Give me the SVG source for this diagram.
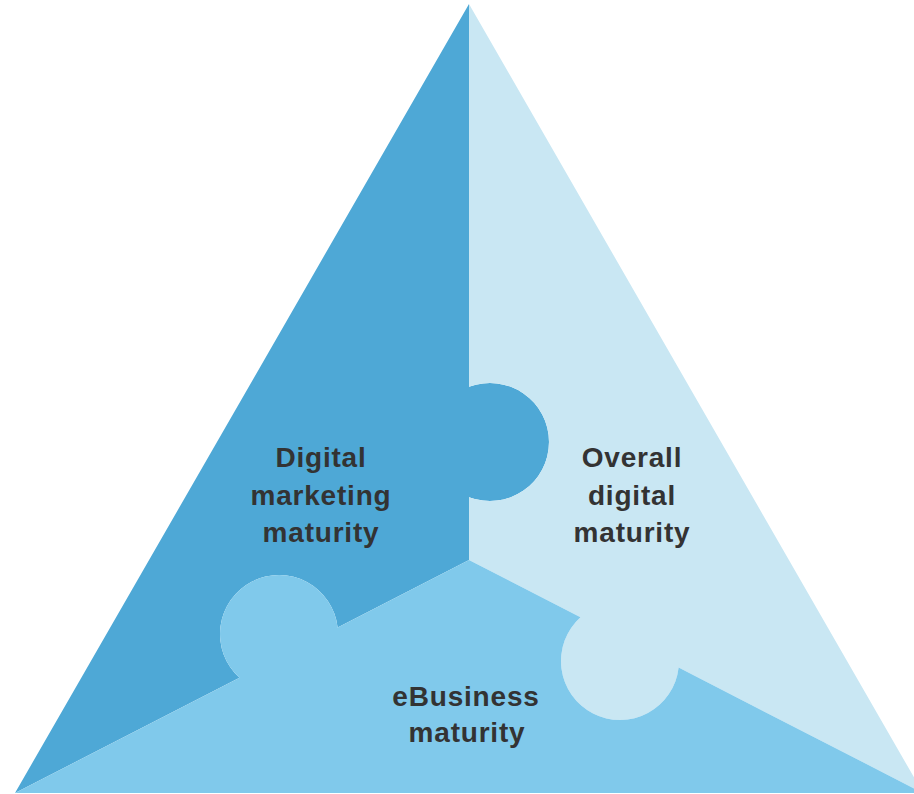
<svg xmlns="http://www.w3.org/2000/svg" width="914" height="794" viewBox="0 0 914 794">
  <style>
    .label { font-family: "Liberation Sans", Arial, Helvetica, sans-serif; font-weight: bold; font-size: 28px; fill: #333333; text-anchor: middle; letter-spacing: 0.8px; }
    .dark { fill: #4ea8d6; }
    .light { fill: #c9e7f3; }
    .mid { fill: #80c9eb; }
  </style>
  <rect width="914" height="794" fill="#ffffff"/>

  <!-- Left puzzle piece with a knob reaching into the right piece -->
  <g id="digital-marketing">
    <path class="dark" d="M469,4 L469,386.86 A59,59 0 1 1 469,497.14 L469,560 L337.63,627.42 A59,59 0 1 0 239.47,677.80 L15,793 Z"/>
    <text class="label" x="321" y="467">Digital</text>
    <text class="label" x="321" y="505">marketing</text>
    <text class="label" x="321" y="542">maturity</text>
  </g>

  <!-- Right puzzle piece with a knob reaching into the bottom piece -->
  <g id="overall-digital">
    <path class="light" d="M469,4 L923,793 L678.63,667.59 A59,59 0 1 1 580.47,617.21 L469,560 L469,497.14 A59,59 0 1 0 469,386.86 Z"/>
    <text class="label" x="632" y="467">Overall</text>
    <text class="label" x="632" y="505">digital</text>
    <text class="label" x="632" y="542">maturity</text>
  </g>

  <!-- Bottom puzzle piece with a knob reaching into the left piece -->
  <g id="ebusiness">
    <path class="mid" d="M469,560 L580.47,617.21 A59,59 0 1 0 678.63,667.59 L923,793 L15,793 L239.47,677.80 A59,59 0 1 1 337.63,627.42 Z"/>
    <text class="label" x="466" y="706">eBusiness</text>
    <text class="label" x="467" y="742">maturity</text>
  </g>

  <!-- Pieces abut directly; no separate connectors -->
  <g id="connectors"/>
</svg>
